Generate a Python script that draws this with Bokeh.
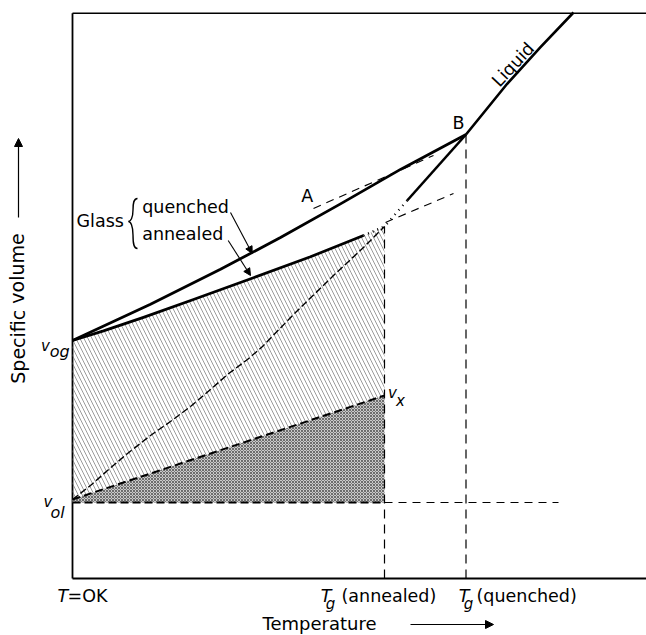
from bokeh.plotting import figure
from bokeh.models import Range1d, Label, Arrow, NormalHead
from bokeh.embed import file_html
from bokeh.resources import INLINE

# ---------------- data (arbitrary temperature / specific-volume units) -------------
T0 = 0
T_max = 574
V_max = 565.3
Tg_annealed = 312
Tg_quenched = 393.5
v_og = 238
v_ol = 76
v_x = 183
T_ol_end = 486

T_quenched = [0, 78, 148, 208, 268, 328, 393.5]
V_quenched = [238, 274.2, 309.2, 341, 374.6, 409.1, 444]

T_annealed = [0, 31, 71, 121, 181, 238, 291]
V_annealed = [238, 247.7, 261.2, 279, 300.8, 321.8, 343]
T_annealed_dot = [291, 312]
V_annealed_dot = [343, 352]

T_liquid = [393.5, 434.7, 468, 501]
V_liquid = [444, 494.7, 531.3, 566]

T_super = [393.5, 334.7]
V_super = [444, 378]
T_super_dot = [334.7, 312]
V_super_dot = [378, 352]

T_extrap = [0, 18, 35, 55, 78, 98, 118, 138, 155, 175, 190, 221, 261, 291, 312]
V_extrap = [79, 93, 108, 125, 143, 157, 172, 189, 204, 219, 232, 264, 303, 331, 352]

T_vx = [0, 312]
V_vx = [79, 183]

T_tanA = [241, 361]
V_tanA = [370, 423]
T_tanG = [313, 381]
V_tanG = [356, 385]

FONT = "DejaVu Sans"

p = figure(width=646, height=635, x_range=Range1d(-72, 574), y_range=Range1d(-57, 578),
           output_backend="svg", toolbar_location=None,
           min_border=0, min_border_left=0, min_border_right=0,
           min_border_top=0, min_border_bottom=0)
p.axis.visible = False
p.grid.visible = False
p.outline_line_color = None
p.background_fill_color = "white"
p.border_fill_color = "white"

# frame lines (axes)
p.line([T0, T0], [0, V_max], line_color="black", line_width=1.8)
p.line([T0, T_max], [0, 0], line_color="black", line_width=1.8)
p.line([T0, T_max], [V_max, V_max], line_color="black", line_width=1.4)

# ---------------- fills ----------------
hatch_x = T_annealed + T_annealed_dot[1:] + [Tg_annealed, T0]
hatch_y = V_annealed + V_annealed_dot[1:] + [v_x, V_vx[0]]
p.patch(hatch_x, hatch_y, fill_color="white", fill_alpha=0, line_color=None,
        hatch_pattern="left_diagonal_line", hatch_color="#707070",
        hatch_weight=0.7, hatch_scale=8)

p.patch([T0, Tg_annealed, Tg_annealed, T0], [v_ol, v_ol, v_x, V_vx[0]],
        fill_color="#cacaca", line_color=None,
        hatch_pattern="diagonal_cross", hatch_color="#444444",
        hatch_weight=0.7, hatch_scale=3)

# ---------------- dashed construction lines ----------------
p.line([Tg_annealed, Tg_annealed], [0, V_annealed_dot[-1]], line_color="black",
       line_width=1.2, line_dash="9 6")
p.line([Tg_quenched, Tg_quenched], [0, V_quenched[-1]], line_color="black",
       line_width=1.2, line_dash="9 6")
p.line([T0, Tg_annealed], [v_ol, v_ol], line_color="black", line_width=2.2, line_dash="8 4")
p.line([Tg_annealed, T_ol_end], [v_ol, v_ol], line_color="black", line_width=1.2, line_dash="8 6")
p.line(T_vx, V_vx, line_color="black", line_width=2.0, line_dash="8 4")
p.line(T_extrap, V_extrap, line_color="black", line_width=1.4, line_dash="7 3")
p.line(T_tanA, V_tanA, line_color="black", line_width=1.1, line_dash="8 6")
p.line(T_tanG, V_tanG, line_color="black", line_width=1.1, line_dash="8 6")

# ---------------- solid curves ----------------
p.line(T_annealed, V_annealed, line_color="black", line_width=2.8, line_join="round")
p.line(T_annealed_dot, V_annealed_dot, line_color="black", line_width=2.4, line_dash="1 4")
p.line(T_quenched, V_quenched, line_color="black", line_width=2.8, line_join="round")
p.line(T_liquid, V_liquid, line_color="black", line_width=2.6, line_join="round")
p.line(T_super, V_super, line_color="black", line_width=2.6)
p.line(T_super_dot, V_super_dot, line_color="black", line_width=2.4, line_dash="1 5")

# brace for Glass label
bx, by_top, by_mid, by_bot = 65, 380, 357, 330
p.bezier(x0=[bx, bx - 4.5, bx - 9, bx - 4.5], y0=[by_top, (by_top + by_mid) / 2, by_mid, (by_mid + by_bot) / 2],
         x1=[bx - 4.5, bx - 9, bx - 4.5, bx], y1=[(by_top + by_mid) / 2, by_mid, (by_mid + by_bot) / 2, by_bot],
         cx0=[bx - 4, bx - 4.5, bx - 7, bx - 4.5], cy0=[by_top, (by_top + by_mid) / 2 - 8, by_mid, (by_mid + by_bot) / 2 - 8],
         cx1=[bx - 4.5, bx - 7, bx - 4.5, bx - 4], cy1=[by_top - 5, by_mid, by_mid - 4, by_bot],
         line_color="black", line_width=1.4)


def label(x, y, text, size="17.5px", style="normal", align="left", baseline="middle", angle=0):
    p.add_layout(Label(x=x, y=y, text=text, text_font=FONT, text_font_size=size,
                       text_font_style=style, text_align=align, text_baseline=baseline,
                       angle=angle, text_color="black"))


def arrow(x0, y0, x1, y1, size=7, width=1.1):
    p.add_layout(Arrow(end=NormalHead(size=size, fill_color="black", line_color="black", line_width=1),
                       x_start=x0, y_start=y0, x_end=x1, y_end=y1,
                       line_color="black", line_width=width))


# point labels
label(234.7, 383, "A", align="center")
label(386, 456, "B", align="center")
label(440.5, 514, "Liquid", angle=0.82, align="center")
label(4, 357.3, "Glass")
label(69.7, 371.3, "quenched")
label(69.7, 344.7, "annealed")
arrow(158, 366, 179.7, 325)
arrow(155.7, 338, 178, 303)

# volume labels
label(-27, v_og - 5.5, "v", size="15px", style="italic", align="center")
label(-22.7, v_og - 11, "og", size="16px", style="italic")
label(-24.5, v_ol + 1, "v", size="15px", style="italic", align="center")
label(-22, v_ol - 10, "ol", size="16px", style="italic")
label(Tg_annealed + 8, v_x + 3, "v", size="15px", style="italic", align="center")
label(Tg_annealed + 16, v_x - 5, "x", size="15px", style="italic", align="center")

# temperature tick labels
label(-15, -17, "T", style="italic")
label(-5, -17, "=OK")
label(Tg_annealed - 58.5, -17, "T", style="italic", align="center")
label(Tg_annealed - 54, -25, "g", size="15px", style="italic", align="center")
label(Tg_annealed - 43, -17, "(annealed)")
label(Tg_quenched - 2, -17, "T", style="italic", align="center")
label(Tg_quenched + 2.5, -25, "g", size="15px", style="italic", align="center")
label(Tg_quenched + 10.5, -17, "(quenched)")

# axis titles
label(247, -45, "Temperature", size="18px", align="center")
arrow(338, -46, 421, -46, size=8, width=1.2)
label(-55, 270, "Specific volume", size="19px", align="center", angle=1.5708)
arrow(-54, 361, -54, 440, size=8, width=1.2)

open("out.html", "w").write(file_html(p, INLINE))
